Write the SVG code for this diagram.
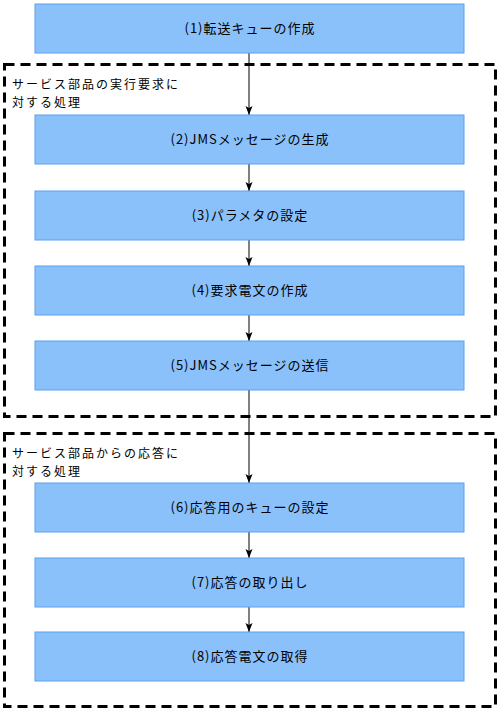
<svg xmlns="http://www.w3.org/2000/svg" width="500" height="711" viewBox="0 0 500 711">
<style>
.box{fill:#8bc1fa;stroke:#5a9ff0;stroke-width:1}
.grp{fill:none;stroke:#000;stroke-width:3;stroke-dasharray:10 6}
.t{font-family:"Noto Sans CJK JP","Noto Sans CJK SC",sans-serif;font-size:13px;letter-spacing:1px;fill:#000}
.g{font-family:"Noto Sans CJK JP","Noto Sans CJK SC",sans-serif;font-size:12px;letter-spacing:2px;fill:#000}
.c{text-anchor:middle;dominant-baseline:central}
.ln{stroke:#000;stroke-width:1;fill:none;marker-end:url(#ah)}
</style>
<defs>
<marker id="ah" markerWidth="10" markerHeight="8" refX="9" refY="4" orient="auto" markerUnits="userSpaceOnUse" viewBox="0 0 10 8">
<path d="M0,0.5 L9,4 L0,7.5 L2,4 Z" fill="#000"/>
</marker>
</defs>
<g id="group1"><rect class="grp" x="4.5" y="64.5" width="491" height="352"/>
<text class="g" x="12" y="89">サービス部品の実行要求に</text>
<text class="g" x="12" y="106.5">対する処理</text></g>
<g id="group2"><rect class="grp" x="4.5" y="433.5" width="491" height="273"/>
<text class="g" x="12" y="458">サービス部品からの応答に</text>
<text class="g" x="12" y="475.5">対する処理</text></g>
<g id="connectors">
<path class="ln" d="M249,53 V115"/>
<path class="ln" d="M249,164 V191"/>
<path class="ln" d="M249,240 V266"/>
<path class="ln" d="M249,315 V341"/>
<path class="ln" d="M249,390 V483"/>
<path class="ln" d="M249,532 V558"/>
<path class="ln" d="M249,607 V632"/>
</g>
<g id="n1"><rect class="box" x="35" y="4" width="429" height="49"/><text class="t c" x="250" y="27.5">(1)転送キューの作成</text></g>
<g id="n2"><rect class="box" x="35" y="115" width="429" height="49"/><text class="t c" x="250" y="138.5">(2)JMSメッセージの生成</text></g>
<g id="n3"><rect class="box" x="35" y="191" width="429" height="49"/><text class="t c" x="250" y="214.5">(3)パラメタの設定</text></g>
<g id="n4"><rect class="box" x="35" y="266" width="429" height="49"/><text class="t c" x="250" y="289.5">(4)要求電文の作成</text></g>
<g id="n5"><rect class="box" x="35" y="341" width="429" height="49"/><text class="t c" x="250" y="364.5">(5)JMSメッセージの送信</text></g>
<g id="n6"><rect class="box" x="35" y="483" width="429" height="49"/><text class="t c" x="250" y="506.5">(6)応答用のキューの設定</text></g>
<g id="n7"><rect class="box" x="35" y="558" width="429" height="49"/><text class="t c" x="250" y="581.5">(7)応答の取り出し</text></g>
<g id="n8"><rect class="box" x="35" y="632" width="429" height="49"/><text class="t c" x="250" y="655.5">(8)応答電文の取得</text></g>
</svg>
